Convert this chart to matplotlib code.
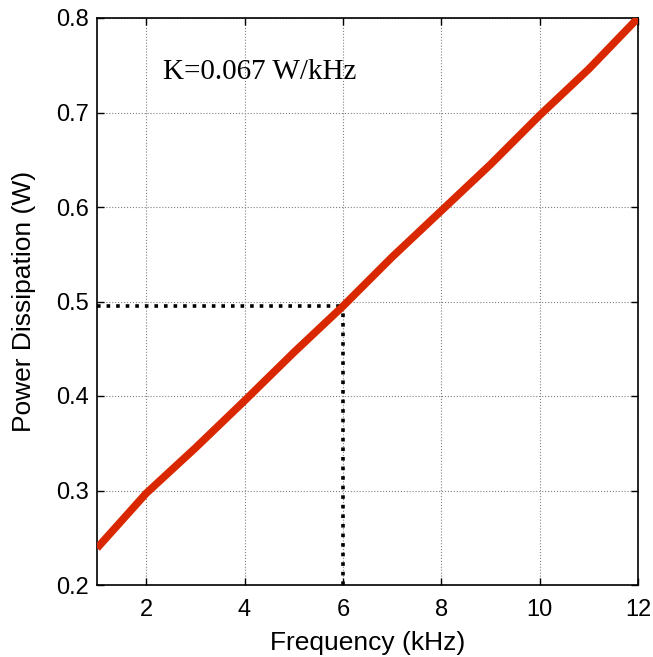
import numpy as np
import matplotlib.pyplot as plt

# fréquence (kHz) et puissance dissipée (W)
freq = [1, 2, 3, 4, 5, 6, 7, 8, 9, 10, 11, 12]
power = [0.239, 0.297, 0.345, 0.395, 0.446, 0.495, 0.547, 0.596, 0.645, 0.697, 0.746, 0.800]

f_mark = 6
p_mark = 0.495
label_k = "K=0.067 W/kHz"

fig = plt.figure(figsize=(6.53, 6.57), dpi=100)
ax = fig.add_axes([97/653, 1 - 585/657, 541/653, 567/657])

ax.plot([1, f_mark], [p_mark, p_mark], color="black", linestyle=":", linewidth=2.6, zorder=3)
ax.plot([f_mark, f_mark], [0.2, p_mark], color="black", linestyle=":", linewidth=2.6, zorder=3)
ax.plot(freq, power, color="#d92800", linewidth=5.5, zorder=4, solid_capstyle="butt")

ax.set_xlim(1, 12)
ax.set_ylim(0.2, 0.8)
ax.set_xticks([2, 4, 6, 8, 10, 12])
ax.set_yticks([0.2, 0.3, 0.4, 0.5, 0.6, 0.7, 0.8])
ax.grid(True, color="#808080", linestyle=":", linewidth=0.8)
ax.tick_params(direction="in", top=True, right=True, labelsize=17, length=5, width=1)
ax.tick_params(axis="x", pad=10)
ax.tick_params(axis="y", pad=6)
for lab in ax.get_xticklabels() + ax.get_yticklabels():
    lab.set_fontfamily("Liberation Sans")
for s in ax.spines.values():
    s.set_linewidth(1.2)

ax.set_xlabel("Frequency (kHz)", fontsize=19, fontfamily="Liberation Sans", va="center")
ax.set_ylabel("Power Dissipation (W)", fontsize=19, fontfamily="Liberation Sans", va="center")
ax.xaxis.set_label_coords(0.5, -0.102)
ax.yaxis.set_label_coords(-0.135, 0.5)
ax.text(2.34, 0.743, label_k, fontsize=21, fontfamily="Liberation Serif", va="center")

fig.savefig("out.png", dpi=100)
